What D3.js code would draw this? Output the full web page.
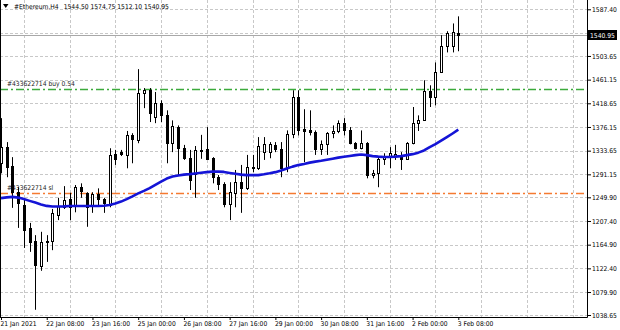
<!DOCTYPE html>
<html>
<head>
<meta charset="utf-8">
<script src="https://cdn.jsdelivr.net/npm/d3@7"></script>
<style>
body { margin: 0; background: #fff; }
svg text { font-family: "DejaVu Sans Condensed", "DejaVu Sans", sans-serif; font-size: 6.7px; fill: #000; }
</style>
</head>
<body>
<div class="chart"></div>
<script>
const WIDTH = 620;
const HEIGHT = 330;
const PLOT_RIGHT = 587;
const PLOT_BOTTOM = 317;

// 4H bars, 21 Jan 2021 00:00 .. 3 Feb 2021 08:00
var opens = [1311,1340,1306,1259,1236,1195,1171,1127,1170,1171,1218,1232,1247,1234,1268,1258,1234,1256,1247,1236,
	1327,1331,1326,1362,1353,1437,1442,1394,1419,1397,1347,1376,1338,1320,1291,1334,1336,1320,1286,1274,
	1238,1258,1277,1266,1302,1302,1331,1331,1344,1336,1302,1363,1430,1372,1370,1367,1336,1345,1365,1369,
	1383,1370,1347,1338,1347,1290,1293,1319,1322,1324,1326,1319,1347,1383,1388,1440,1430,1475,1521,1521,1544.50];
var highs = [1392,1349,1322,1268,1245,1204,1182,1188,1182,1229,1249,1270,1258,1272,1275,1259,1259,1266,1249,1338,
	1335,1335,1369,1365,1480,1446,1446,1439,1424,1406,1388,1379,1344,1335,1342,1362,1376,1322,1290,1277,
	1277,1299,1308,1326,1326,1358,1358,1349,1349,1349,1370,1442,1442,1408,1406,1370,1352,1367,1379,1388,
	1392,1376,1349,1370,1349,1299,1322,1329,1340,1344,1331,1349,1412,1397,1460,1451,1492,1541,1548,1562,1574.75];
var lows = [1293,1286,1231,1195,1159,1152,1048,1118,1134,1155,1209,1229,1209,1223,1249,1197,1222,1236,1222,1232,
	1308,1324,1302,1311,1347,1410,1385,1383,1385,1311,1331,1290,1317,1263,1249,1319,1317,1275,1263,1232,
	1209,1232,1222,1263,1295,1299,1317,1320,1331,1286,1295,1356,1361,1313,1361,1326,1326,1326,1356,1365,
	1361,1345,1336,1336,1284,1284,1268,1308,1302,1317,1299,1317,1345,1369,1387,1412,1415,1473,1510,1510,1512.10];
var closes = [1340,1304,1259,1240,1191,1170,1128,1170,1171,1222,1234,1245,1232,1268,1261,1232,1256,1247,1240,1326,
	1319,1327,1362,1354,1437,1442,1401,1419,1397,1347,1378,1338,1320,1281,1335,1335,1319,1286,1274,1238,
	1259,1277,1266,1304,1304,1342,1345,1345,1336,1302,1363,1430,1370,1369,1367,1336,1345,1365,1369,1383,
	1370,1347,1338,1347,1290,1293,1319,1322,1329,1327,1319,1347,1383,1388,1440,1430,1475,1521,1544,1546,1540.95];
var maValues = [1248.5,1249.8,1250.7,1249.4,1246.7,1243.5,1240.4,1237.2,1234.5,1233.3,
	1233.3,1233.6,1234.2,1234.2,1234.2,1234.2,1234.2,1234.2,1234.9,1236.0,
	1238.7,1242.2,1246.7,1251.6,1256.9,1261.4,1266.4,1272.4,1278.1,1283.5,
	1287.1,1289.2,1290.6,1291.5,1292.8,1293.9,1295.1,1296.0,1296.0,1295.5,
	1293.7,1292.1,1290.6,1289.8,1289.8,1289.8,1291.2,1293.0,1295.1,1298.2,
	1301.8,1305.0,1307.7,1309.8,1312.2,1314.0,1315.4,1317.2,1319.2,1321.1,
	1322.7,1324.2,1325.6,1326.7,1325.6,1323.8,1322.9,1322.4,1322.4,1322.9,
	1323.8,1325.6,1327.4,1330.1,1334.0,1340.0,1345.4,1351.6,1357.9,1364.5,1371.4];

var timeTickBars = [0, 8, 16, 24, 32, 40, 48, 56, 64, 72, 80];
var timeLabels = ['21 Jan 2021','22 Jan 08:00','23 Jan 16:00','25 Jan 00:00','26 Jan 08:00','27 Jan 16:00',
	'29 Jan 00:00','30 Jan 08:00','31 Jan 16:00','2 Feb 00:00','3 Feb 08:00'];
var priceTicks = [1587.40,1503.65,1461.15,1418.65,1376.15,1333.65,1291.15,1249.90,1207.40,1164.90,1122.40,1079.90,1038.65];
var hiddenTick = 1545.15;

var symbolName = '#Ethereum,H4';
var orderId = '#433622714';
var buyPrice = 1444.0;
var buyLots = '0.54';
var slPrice = 1256.9;

var xScale = d3.scaleLinear().domain([0, 80]).range([1, 458.3]);
var yScale = d3.scaleLinear().domain([1038.65, 1587.40]).range([315, 9.3]);

var crisp = function (v) { return Math.round(v) + 0.5; };

var svg = d3.select('.chart').append('svg')
	.attr('width', WIDTH)
	.attr('height', HEIGHT);

// grid
var grid = svg.append('g').attr('stroke', '#c8c8c8').attr('stroke-dasharray', '3,2').attr('stroke-width', 1);
grid.selectAll('.vgrid').data(d3.range(4, 101, 8))
	.enter().append('line')
	.attr('x1', function (d) { return crisp(xScale(d)); })
	.attr('x2', function (d) { return crisp(xScale(d)); })
	.attr('y1', 0).attr('y2', PLOT_BOTTOM);
grid.selectAll('.hgrid').data(priceTicks.concat([hiddenTick]))
	.enter().append('line')
	.attr('x1', 0).attr('x2', PLOT_RIGHT)
	.attr('y1', function (d) { return crisp(yScale(d)); })
	.attr('y2', function (d) { return crisp(yScale(d)); });

// bid line
var last = closes.length - 1;
svg.append('line')
	.attr('x1', 0).attr('x2', PLOT_RIGHT)
	.attr('y1', crisp(yScale(closes[last]))).attr('y2', crisp(yScale(closes[last])))
	.attr('stroke', '#a8a8a8');

// order lines
svg.append('line')
	.attr('x1', 0).attr('x2', PLOT_RIGHT)
	.attr('y1', crisp(yScale(buyPrice))).attr('y2', crisp(yScale(buyPrice)))
	.style('stroke', '#3caa3c').style('stroke-width', '1.4px').style('stroke-dasharray', '8,3,2,3');
svg.append('line')
	.attr('x1', 0).attr('x2', PLOT_RIGHT)
	.attr('y1', crisp(yScale(slPrice))).attr('y2', crisp(yScale(slPrice)))
	.style('stroke', '#f57a30').style('stroke-width', '1.4px').style('stroke-dasharray', '8,3,2,3');

svg.append('text')
	.attr('x', 7).attr('y', yScale(buyPrice) - 3)
	.style('fill', '#222')
	.text(orderId + ' buy ' + buyLots);
svg.append('text')
	.attr('x', 7).attr('y', yScale(slPrice) - 3)
	.style('fill', '#222')
	.text(orderId + ' sl');

// candles
var bars = svg.append('g').classed('candles', true);
var idx = d3.range(opens.length);

bars.selectAll('.wick').data(idx)
	.enter().append('line')
	.attr('x1', function (i) { return Math.round(xScale(i)) + 0.5; })
	.attr('x2', function (i) { return Math.round(xScale(i)) + 0.5; })
	.attr('y1', function (i) { return yScale(highs[i]); })
	.attr('y2', function (i) { return yScale(lows[i]); })
	.attr('stroke', '#000');

bars.selectAll('.body').data(idx)
	.enter().append('rect')
	.attr('x', function (i) { return Math.round(xScale(i)) - 0.5; })
	.attr('width', 2)
	.attr('y', function (i) { return Math.round(yScale(Math.max(opens[i], closes[i]))) + 0.5; })
	.attr('height', function (i) {
		var h = Math.round(yScale(Math.min(opens[i], closes[i]))) - Math.round(yScale(Math.max(opens[i], closes[i])));
		return Math.max(h, 1);
	})
	.attr('fill', function (i) { return closes[i] >= opens[i] ? '#fff' : '#000'; })
	.attr('stroke', '#000');

// moving average
var line = d3.line()
	.x(function (d, i) { return xScale(i); })
	.y(function (d) { return yScale(d); });
svg.append('path')
	.attr('d', line(maValues))
	.attr('fill', 'none')
	.attr('stroke', '#1414d6')
	.attr('stroke-width', 2.6)
	.attr('stroke-linejoin', 'round');

// frame
svg.append('line').attr('x1', PLOT_RIGHT + 0.5).attr('x2', PLOT_RIGHT + 0.5).attr('y1', 0).attr('y2', PLOT_BOTTOM + 0.5).attr('stroke', '#000');
svg.append('line').attr('x1', 0).attr('x2', PLOT_RIGHT + 0.5).attr('y1', PLOT_BOTTOM + 0.5).attr('y2', PLOT_BOTTOM + 0.5).attr('stroke', '#000');
svg.append('line').attr('x1', 0.5).attr('x2', 0.5).attr('y1', 0).attr('y2', PLOT_BOTTOM + 0.5).attr('stroke', '#000');

// axes
var yAxis = d3.axisRight(yScale).tickValues(priceTicks).tickFormat(d3.format('.2f')).tickSize(4).tickPadding(1);
var yg = svg.append('g').attr('transform', 'translate(' + PLOT_RIGHT + ',0)').call(yAxis);
yg.select('.domain').remove();

var xAxis = d3.axisBottom(xScale).tickValues(timeTickBars)
	.tickFormat(function (d, i) { return timeLabels[i]; })
	.tickSize(3).tickPadding(1);
var xg = svg.append('g').attr('transform', 'translate(0,' + PLOT_BOTTOM + ')').call(xAxis);
xg.select('.domain').remove();
xg.selectAll('text').attr('text-anchor', 'start').attr('x', -1);

// current price label
var bidY = yScale(closes[last]);
svg.append('rect')
	.attr('x', PLOT_RIGHT + 1).attr('y', Math.round(bidY) - 5)
	.attr('width', 29).attr('height', 10)
	.attr('fill', '#000');
svg.append('text')
	.attr('x', PLOT_RIGHT + 3).attr('y', Math.round(bidY) + 2.5)
	.style('fill', '#fff')
	.text(d3.format('.2f')(closes[last]));

// title
svg.append('path').attr('d', 'M3,4L8.5,4L5.75,8Z').attr('fill', '#000');
var title = svg.append('text').attr('x', 14).attr('y', 9);
title.append('tspan').text(symbolName);
title.append('tspan').attr('dx', 5)
	.text([opens[last], highs[last], lows[last], closes[last]].map(d3.format('.2f')).join(' '));
</script>
</body>
</html>
